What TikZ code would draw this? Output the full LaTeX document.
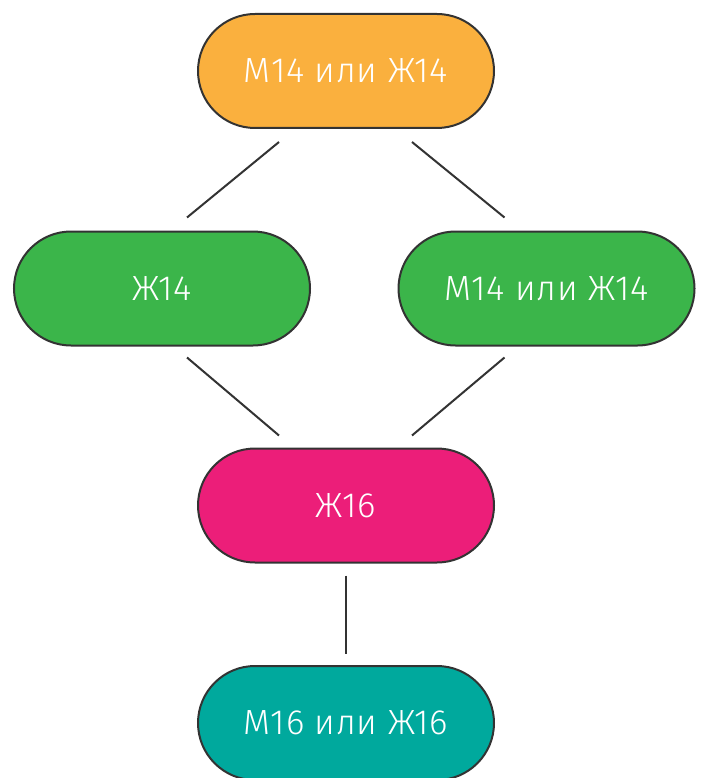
\documentclass[tikz,border=0pt]{standalone}
\usepackage{fontspec}
\setmainfont{Fira Sans}[UprightFont=* Light, LetterSpace=2]
\begin{document}
\begin{tikzpicture}[x=1pt,y=-1pt,
  pill/.style={draw=linegray, line width=2pt, rounded corners=57pt, minimum width=296pt, minimum height=114pt, inner sep=0pt, text=white, font=\fontsize{35}{40}\selectfont},
  conn/.style={draw=linegray, line width=2pt}]
\definecolor{linegray}{HTML}{333333}
\definecolor{corange}{HTML}{FAB03E}
\definecolor{cgreen}{HTML}{3BB54A}
\definecolor{cpink}{HTML}{EC1E79}
\definecolor{cteal}{HTML}{00A99D}
\clip (0,0) rectangle (702,778);
\useasboundingbox (0,0) rectangle (702,778);
\node[pill, fill=corange] (top) at (346,71) {М14 или Ж14};
\node[pill, fill=cgreen] (left) at (162,288.5) {Ж14};
\node[pill, fill=cgreen] (right) at (546.5,288.5) {М14 или Ж14};
\node[pill, fill=cpink] (mid) at (346,505.5) {Ж16};
\node[pill, fill=cteal] (bot) at (346,723) {М16 или Ж16};
\draw[conn] ([xshift=-67pt,yshift=-13pt]top.south) -- ([xshift=25pt,yshift=13pt]left.north);
\draw[conn] ([xshift=66pt,yshift=-13pt]top.south) -- ([xshift=-42pt,yshift=13pt]right.north);
\draw[conn] ([xshift=25pt,yshift=-11pt]left.south) -- ([xshift=-67pt,yshift=12pt]mid.north);
\draw[conn] ([xshift=-42pt,yshift=-11pt]right.south) -- ([xshift=66pt,yshift=12pt]mid.north);
\draw[conn] ([yshift=-12pt]mid.south) -- ([yshift=11pt]bot.north);
\end{tikzpicture}
\end{document}
